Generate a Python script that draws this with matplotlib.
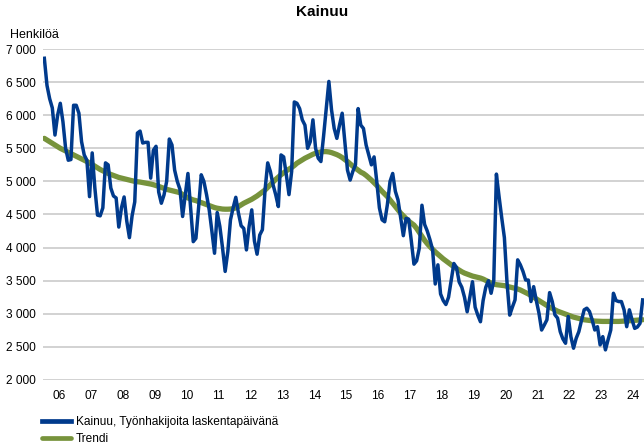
import matplotlib
matplotlib.use("Agg")
import matplotlib.pyplot as plt
import numpy as np

plt.rcParams['font.family'] = ['Liberation Sans', 'DejaVu Sans']

# monthly values, Jan 2006 .. Oct 2024
kainuu = [
    6860, 6450, 6250, 6110, 5700, 6000, 6180, 5900, 5500, 5320, 5330, 6150,  # 2006
    6150, 6030, 5600, 5400, 5320, 4770, 5430, 4900, 4490, 4480, 4600, 5280,  # 2007
    5250, 4900, 4780, 4750, 4310, 4600, 4765, 4400, 4150, 4480, 4690, 5730,  # 2008
    5760, 5580, 5590, 5590, 5050, 5470, 5530, 4840, 4670, 4795, 5000, 5640,  # 2009
    5550, 5170, 5000, 4880, 4470, 4800, 5120, 4600, 4090, 4140, 4600, 5100,  # 2010
    5000, 4800, 4570, 4250, 3915, 4530, 4320, 4000, 3640, 3940, 4420, 4600,  # 2011
    4760, 4520, 4330, 4290, 3965, 4320, 4570, 4100, 3900, 4190, 4270, 4870,  # 2012
    5280, 5150, 4950, 4800, 4620, 5400, 5370, 5100, 4800, 5150, 6200, 6180,  # 2013
    6100, 5930, 5850, 5500, 5600, 5930, 5500, 5350, 5300, 5680, 6100, 6510,  # 2014
    6080, 5800, 5650, 5850, 6030, 5600, 5170, 5020, 5150, 5250, 6100, 5850,  # 2015
    5800, 5550, 5400, 5250, 5370, 5000, 4600, 4420, 4390, 4650, 5000, 5120,  # 2016
    4850, 4720, 4450, 4180, 4440, 4430, 4100, 3750, 3800, 3990, 4640, 4350,  # 2017
    4250, 4120, 3970, 3450, 3740, 3300, 3200, 3140, 3250, 3500, 3760, 3700,  # 2018
    3480, 3400, 3250, 3030, 3250, 3485, 3100, 2980, 2880, 3200, 3400, 3500,  # 2019
    3310, 3500, 5110, 4770, 4450, 4150, 3465, 2980, 3100, 3210, 3815, 3740,  # 2020
    3640, 3510, 3510, 3185, 3410, 3200, 3010, 2755, 2830, 2910, 3320, 3185,  # 2021
    2985, 2935, 2730, 2620, 2555, 2960, 2655, 2480, 2630, 2730, 2900, 3060,  # 2022
    3085, 3035, 2910, 2755, 2805, 2530, 2655, 2455, 2610, 2755, 3310, 3200,  # 2023
    3185, 3185, 3060, 2805, 3060, 2910, 2780, 2800, 2855, 3210,              # 2024
]

trendi = [
    5650, 5625, 5600, 5575, 5550, 5525, 5500, 5480, 5460, 5440, 5420, 5400,
    5380, 5360, 5340, 5320, 5300, 5280, 5255, 5230, 5205, 5180, 5160, 5140,
    5120, 5105, 5090, 5075, 5060, 5050, 5040, 5030, 5020, 5010, 5000, 4995,
    4990, 4982, 4975, 4968, 4960, 4950, 4938, 4925, 4910, 4895, 4880, 4870,
    4860, 4850, 4840, 4830, 4800, 4775, 4750, 4735, 4720, 4710, 4695, 4680,
    4665, 4650, 4635, 4620, 4605, 4595, 4588, 4582, 4580, 4580, 4582, 4588,
    4600, 4620, 4645, 4670, 4690, 4710, 4730, 4755, 4780, 4810, 4840, 4870,
    4910, 4950, 4990, 5030, 5065, 5100, 5130, 5160, 5185, 5210, 5240, 5275,
    5300, 5325, 5350, 5370, 5390, 5410, 5425, 5438, 5445, 5450, 5450, 5445,
    5435, 5420, 5405, 5385, 5360, 5330, 5300, 5265, 5230, 5200, 5170, 5140,
    5120, 5090, 5055, 5020, 4980, 4940, 4895, 4850, 4810, 4770, 4720, 4670,
    4620, 4570, 4520, 4480, 4440, 4400, 4370, 4340, 4290, 4230, 4170, 4110,
    4060, 4015, 3975, 3935, 3900, 3865, 3830, 3800, 3770, 3740, 3710, 3685,
    3660, 3635, 3615, 3600, 3585, 3570, 3560, 3550, 3540, 3525, 3505, 3485,
    3465, 3450, 3440, 3435, 3430, 3425, 3415, 3405, 3395, 3385, 3375, 3360,
    3340, 3320, 3300, 3275, 3250, 3225, 3200, 3175, 3150, 3125, 3100, 3080,
    3060, 3040, 3025, 3010, 2995, 2980, 2965, 2950, 2940, 2930, 2920, 2910,
    2905, 2900, 2895, 2890, 2888, 2886, 2885, 2885, 2885, 2885, 2885, 2885,
    2885, 2887, 2890, 2892, 2895, 2898, 2900, 2903, 2906, 2910,
]

years = ['06', '07', '08', '09', '10', '11', '12', '13', '14', '15',
         '16', '17', '18', '19', '20', '21', '22', '23', '24']
yticks = [2000, 2500, 3000, 3500, 4000, 4500, 5000, 5500, 6000, 6500, 7000]

W, H = 644, 446
fig = plt.figure(figsize=(W / 100, H / 100), dpi=100)
ax = fig.add_axes([43 / W, 1 - 380 / H, 601 / W, 331 / H])

m = np.arange(len(kainuu))
ax.plot(m, trendi, color='#77933c', lw=3.8, solid_capstyle='round',
        label='Trendi', zorder=3)
ax.plot(m, kainuu, color='#003a8c', lw=2.5, solid_joinstyle='round',
        label='Kainuu, Työnhakijoita laskentapäivänä', zorder=4)

ax.set_xlim(-0.5, len(kainuu) - 0.5)
ax.set_ylim(2000, 7000)
ax.set_yticks(yticks)
ax.set_yticklabels([f'{v:,}'.replace(',', ' ') for v in yticks])
ax.set_xticks([12 * i + 5.5 for i in range(len(years))])
ax.set_xticklabels(years)
ax.tick_params(length=0, labelsize=8.6, pad=7)
ax.tick_params(axis='y', pad=5)
for s in ax.spines.values():
    s.set_visible(False)
ax.grid(axis='y', color='#c6c6c6', lw=1.1)
ax.set_axisbelow(True)

fig.text(0.5, 1 - 12 / H, 'Kainuu', ha='center', va='center',
         fontsize=11, fontweight='bold')
fig.text(10 / W, 1 - 35 / H, 'Henkilöä', ha='left', va='center', fontsize=9)

h, l = ax.get_legend_handles_labels()
leg = fig.legend(h[::-1], l[::-1], loc='upper left',
                 bbox_to_anchor=(42 / W, 1 - 416 / H), frameon=False,
                 fontsize=8.6, handlelength=2.4, handletextpad=0.45,
                 labelspacing=0.45, borderpad=0, borderaxespad=0)
for line in leg.get_lines():
    line.set_linewidth(3.4)

fig.savefig('out.png', dpi=100)
